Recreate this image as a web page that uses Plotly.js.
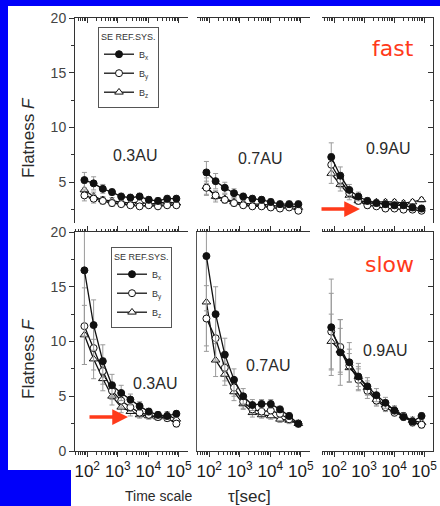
<!DOCTYPE html>
<html><head><meta charset="utf-8">
<script src="https://cdn.plot.ly/plotly-3.0.1.min.js"></script>
<style>html,body{margin:0;padding:0;background:#fff}#chart{width:440px;height:506px}</style>
</head><body><div id="chart"></div>
<script>
// ---- data ----
const tau = [81, 162, 324, 648, 1296, 2592, 5184, 10368, 20736, 41472, 82944];
const tickVals = [100, 1000, 10000, 100000];
const tickText = ['10<sup>2</sup>', '10<sup>3</sup>', '10<sup>4</sup>', '10<sup>5</sup>'];
const distances = ['0.3AU', '0.7AU', '0.9AU'];
const components = ['B<sub>x</sub>', 'B<sub>y</sub>', 'B<sub>z</sub>'];
const windTypes = ['fast', 'slow'];

// fast wind
const fast03Bx = [5.2, 4.9, 4.4, 4.1, 3.7, 3.6, 3.7, 3.4, 3.3, 3.5, 3.5];
const fast03By = [3.8, 3.5, 3.3, 3.1, 3.0, 2.9, 2.8, 2.9, 2.8, 2.9, 2.9];
const fast03Bz = [4.3, 3.7, 3.4, 3.3, 3.2, 3.1, 3.2, 3.0, 3.1, 3.2, 3.1];
const fast07Bx = [5.9, 5.1, 4.5, 4.0, 3.7, 3.5, 3.4, 3.2, 3.0, 3.0, 3.0];
const fast07By = [4.5, 3.8, 3.4, 3.1, 2.9, 2.8, 2.8, 2.7, 2.6, 2.7, 2.4];
const fast07Bz = [4.6, 3.7, 3.5, 3.2, 3.1, 3.0, 3.0, 2.9, 2.8, 2.9, 2.7];
const fast09Bx = [7.3, 5.6, 4.3, 3.7, 3.3, 3.1, 3.0, 2.9, 2.9, 2.7, 2.6];
const fast09By = [6.6, 5.2, 4.0, 3.3, 2.9, 2.8, 2.6, 2.6, 2.5, 2.5, 2.4];
const fast09Bz = [5.8, 4.8, 3.8, 3.3, 3.2, 3.2, 3.2, 3.2, 3.1, 3.2, 3.4];
// fast wind error bars
const fast03BxErr = [0.7, 0.6, 0.4, 0.3, 0.3, 0.3, 0.3, 0.3, 0.3, 0.3, 0.3];
const fast03ByErr = [0.5, 0.4, 0.3, 0.3, 0.2, 0.2, 0.2, 0.2, 0.2, 0.2, 0.2];
const fast03BzErr = [0.6, 0.4, 0.3, 0.3, 0.2, 0.2, 0.2, 0.2, 0.2, 0.2, 0.2];
const fast07BxErr = [1.0, 0.7, 0.5, 0.4, 0.3, 0.3, 0.3, 0.3, 0.3, 0.3, 0.3];
const fast07ByErr = [0.6, 0.4, 0.3, 0.3, 0.2, 0.2, 0.2, 0.2, 0.2, 0.2, 0.2];
const fast07BzErr = [0.8, 0.5, 0.4, 0.3, 0.2, 0.2, 0.2, 0.2, 0.2, 0.2, 0.2];
const fast09BxErr = [1.3, 0.8, 0.5, 0.4, 0.3, 0.3, 0.3, 0.3, 0.3, 0.3, 0.3];
const fast09ByErr = [1.0, 0.7, 0.4, 0.3, 0.3, 0.2, 0.2, 0.2, 0.2, 0.2, 0.2];
const fast09BzErr = [0.9, 0.6, 0.4, 0.3, 0.3, 0.2, 0.2, 0.2, 0.2, 0.2, 0.2];

// slow wind
const slow03Bx = [16.5, 11.5, 8.2, 6.0, 5.3, 4.7, 4.1, 3.6, 3.3, 3.2, 3.4];
const slow03By = [11.4, 9.4, 7.3, 5.5, 4.6, 4.0, 3.5, 3.3, 3.1, 3.0, 2.5];
const slow03Bz = [10.6, 8.4, 6.6, 5.0, 4.0, 3.6, 3.3, 3.2, 3.1, 3.3, 2.9];
const slow07Bx = [17.8, 12.5, 8.8, 6.5, 5.0, 4.2, 4.3, 4.3, 3.8, 3.2, 2.5];
const slow07By = [12.1, 10.3, 7.6, 5.8, 4.5, 3.8, 3.6, 3.7, 3.4, 2.9, 2.5];
const slow07Bz = [13.6, 8.3, 7.0, 5.4, 4.3, 3.5, 3.3, 3.2, 2.9, 2.8, 2.5];
const slow09Bx = [11.3, 9.0, 8.1, 6.8, 5.9, 5.1, 4.4, 3.7, 3.1, 2.7, 3.2];
const slow09By = [10.9, 9.5, 7.8, 6.5, 5.5, 4.6, 4.0, 3.5, 3.2, 2.6, 2.4];
const slow09Bz = [10.0, 9.2, 7.6, 6.8, 5.8, 4.7, 4.2, 3.8, 3.2, 2.8, 2.6];
// slow wind error bars
const slow03BxErr = [6.0, 2.3, 1.5, 1.0, 0.7, 0.5, 0.4, 0.3, 0.3, 0.3, 0.3];
const slow03ByErr = [3.5, 2.0, 1.2, 0.8, 0.6, 0.4, 0.3, 0.3, 0.3, 0.3, 0.3];
const slow03BzErr = [2.7, 1.8, 1.1, 0.8, 0.5, 0.4, 0.3, 0.3, 0.3, 0.3, 0.3];
const slow07BxErr = [5.0, 2.5, 1.5, 1.0, 0.7, 0.5, 0.4, 0.4, 0.3, 0.3, 0.3];
const slow07ByErr = [3.0, 2.0, 1.2, 0.8, 0.6, 0.4, 0.3, 0.3, 0.3, 0.3, 0.3];
const slow07BzErr = [4.0, 1.5, 1.0, 0.8, 0.5, 0.4, 0.3, 0.3, 0.3, 0.3, 0.3];
const slow09BxErr = [4.4, 3.0, 1.8, 1.2, 0.8, 0.6, 0.5, 0.4, 0.3, 0.3, 0.3];
const slow09ByErr = [3.5, 2.5, 1.5, 1.0, 0.7, 0.5, 0.4, 0.3, 0.3, 0.3, 0.3];
const slow09BzErr = [2.5, 2.0, 1.3, 0.9, 0.6, 0.5, 0.4, 0.3, 0.3, 0.3, 0.3];

const panelValues = [
  [[fast03Bx, fast03By, fast03Bz], [fast07Bx, fast07By, fast07Bz], [fast09Bx, fast09By, fast09Bz]],
  [[slow03Bx, slow03By, slow03Bz], [slow07Bx, slow07By, slow07Bz], [slow09Bx, slow09By, slow09Bz]]
];
const panelErrors = [
  [[fast03BxErr, fast03ByErr, fast03BzErr], [fast07BxErr, fast07ByErr, fast07BzErr], [fast09BxErr, fast09ByErr, fast09BzErr]],
  [[slow03BxErr, slow03ByErr, slow03BzErr], [slow07BxErr, slow07ByErr, slow07BzErr], [slow09BxErr, slow09ByErr, slow09BzErr]]
];

// ---- layout helpers (pixel geometry) ----
const W = 440, H = 506;
const px = v => v / W;
const py = v => 1 - v / H;
const colDomains = [[px(75), px(188)], [px(197), px(310)], [px(322), px(433)]];
const rowDomains = [[py(223), py(18)], [py(451), py(232)]];
const rowRanges = [[1.28, 20], [0, 20]];
const minorVals = [];
for (let e = 1; e <= 5; e++) for (let m = 2; m <= 9; m++) minorVals.push(m * Math.pow(10, e));

const FONT = 'Liberation Sans, Arial, sans-serif';
const INK = '#2a2a2a';
const markerStyles = [
  {symbol: 'circle', color: '#111', size: 7, line: {color: '#111', width: 1}},
  {symbol: 'circle', color: '#fff', size: 7, line: {color: '#111', width: 1}},
  {symbol: 'triangle-up', color: '#fff', size: 7.5, line: {color: '#111', width: 1}}
];

const traces = [];
const layout = {
  width: W, height: H,
  margin: {l: 0, r: 0, t: 0, b: 0},
  paper_bgcolor: '#fff', plot_bgcolor: 'rgba(0,0,0,0)',
  font: {family: FONT, color: INK},
  showlegend: true,
  shapes: [], annotations: []
};

for (let r = 0; r < 2; r++) {
  for (let c = 0; c < 3; c++) {
    const p = r * 3 + c + 1;
    const xs = p === 1 ? 'x' : 'x' + p;
    const ys = p === 1 ? 'y' : 'y' + p;
    for (let k = 2; k >= 0; k--) {
      traces.push({
        type: 'scatter', mode: 'lines+markers',
        x: tau, y: panelValues[r][c][k],
        xaxis: xs, yaxis: ys,
        name: components[k],
        legend: r === 0 ? 'legend' : 'legend2',
        legendrank: k,
        showlegend: c === 0,
        line: {color: '#111', width: 1.3},
        marker: markerStyles[k],
        error_y: {type: 'data', array: panelErrors[r][c][k], color: '#9a9a9a', thickness: 1, width: 2.5},
        cliponaxis: true
      });
    }
    const xax = {
      type: 'log', range: [1.6, 5.3], domain: colDomains[c], anchor: ys,
      showline: true, linecolor: '#333', linewidth: 1,
      tickcolor: '#333', ticklen: 5,
      tickmode: 'array', tickvals: tickVals, ticktext: tickText,
      tickfont: {size: 17, color: '#1a1a1a', family: FONT},
      showgrid: false, zeroline: false, fixedrange: true
    };
    if (r === 0) {
      // the top row is cropped at the bottom: only its upper frame is visible
      Object.assign(xax, {side: 'top', ticks: 'inside', showticklabels: false,
        minor: {tickmode: 'array', tickvals: minorVals, ticks: 'inside', ticklen: 2.5, tickcolor: '#333', showgrid: false}});
    } else {
      Object.assign(xax, {side: 'bottom', ticks: 'outside', mirror: 'ticks', showticklabels: true,
        minor: {tickmode: 'array', tickvals: minorVals, ticks: 'outside', ticklen: 2.5, tickcolor: '#333', showgrid: false}});
    }
    layout['xaxis' + (p === 1 ? '' : p)] = xax;
    const yax = {
      range: rowRanges[r], domain: rowDomains[r], anchor: xs,
      showgrid: false, zeroline: false, fixedrange: true,
      tickmode: 'linear', tick0: 0, dtick: 5,
      tickfont: {size: 14, color: '#444', family: FONT}
    };
    if (c === 0) {
      Object.assign(yax, {side: 'left', showline: true, linecolor: '#333', ticks: 'outside', ticklen: 5, tickcolor: '#333',
        showticklabels: true,
        minor: {tick0: 0, dtick: 2.5, ticks: 'outside', ticklen: 3, tickcolor: '#333'}});
    } else if (c === 2) {
      Object.assign(yax, {side: 'right', showline: true, linecolor: '#333', ticks: 'inside', ticklen: 5, tickcolor: '#333',
        showticklabels: false,
        minor: {tick0: 0, dtick: 2.5, ticks: 'inside', ticklen: 3, tickcolor: '#333'}});
    } else {
      Object.assign(yax, {showline: r === 1, linecolor: '#555', ticks: '', showticklabels: false});
    }
    layout['yaxis' + (p === 1 ? '' : p)] = yax;
  }
}

const legendBase = {
  xanchor: 'left', yanchor: 'top', bgcolor: '#fff', bordercolor: '#555', borderwidth: 1,
  font: {size: 9, family: FONT, color: '#333'}, itemwidth: 30, tracegroupgap: 0,
  traceorder: 'normal',
  title: {text: 'SE REF.SYS.', font: {size: 9, family: FONT, color: '#333'}}
};
layout.legend = Object.assign({}, legendBase, {x: px(98), y: py(27)});
layout.legend2 = Object.assign({}, legendBase, {x: px(111), y: py(247)});

// blue frame around the slide
const blue = '#0000fa';
layout.shapes.push(
  {type: 'rect', xref: 'paper', yref: 'paper', x0: 0, x1: 1, y0: py(6), y1: 1, fillcolor: blue, line: {width: 0}, layer: 'below'},
  {type: 'rect', xref: 'paper', yref: 'paper', x0: 0, x1: px(8), y0: 0, y1: 1, fillcolor: blue, line: {width: 0}, layer: 'below'},
  {type: 'rect', xref: 'paper', yref: 'paper', x0: 0, x1: px(71), y0: 0, y1: py(470), fillcolor: blue, line: {width: 0}, layer: 'below'}
);

function label(text, x, y, size, opts) {
  layout.annotations.push(Object.assign({
    text: text, xref: 'paper', yref: 'paper', x: px(x), y: py(y),
    xanchor: 'center', yanchor: 'middle', showarrow: false,
    font: {size: size, family: FONT, color: INK}
  }, opts || {}));
}
// distance labels
const distPos = [[[135, 155], [260, 159], [388, 148]], [[155, 383], [268, 365], [385, 350]]];
for (let r = 0; r < 2; r++) for (let c = 0; c < 3; c++) label(distances[c], distPos[r][c][0], distPos[r][c][1], 16);
// wind type labels
const windPos = [[393, 48], [389, 264]];
for (let r = 0; r < 2; r++) label(windTypes[r], windPos[r][0], windPos[r][1], 22,
  {font: {size: 22, family: 'DejaVu Sans, Verdana, sans-serif', color: '#ff3a1a'}});
// y titles
label('Flatness <i>F</i>', 28, 137, 17, {textangle: -90});
label('Flatness <i>F</i>', 28, 358, 17, {textangle: -90});
// x title
label('Time scale', 158, 496, 14);
label('\u03c4[sec]', 249, 496, 17);
// arrows
const arrows = [[360, 209, 40], [128, 417, 40]];
arrows.forEach(a => layout.annotations.push({
  text: '', xref: 'paper', yref: 'paper', x: px(a[0]), y: py(a[1]),
  ax: -a[2], ay: 0, showarrow: true, arrowhead: 2, arrowsize: 0.9, arrowwidth: 3.5,
  arrowcolor: '#ff3a1a', standoff: 0
}));

Plotly.newPlot('chart', traces, layout, {staticPlot: true, displayModeBar: false});
</script>
</body></html>
